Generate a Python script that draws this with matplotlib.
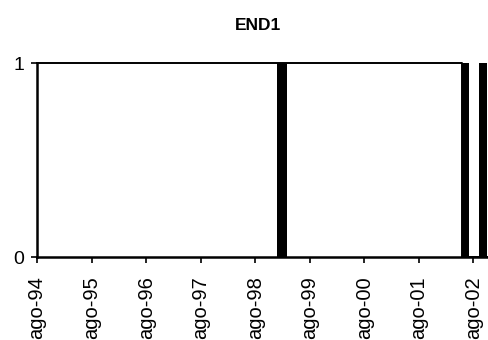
import matplotlib
matplotlib.use("Agg")
import matplotlib.pyplot as plt
import numpy as np
import pandas as pd

plt.rcParams['font.family'] = ['Liberation Sans', 'DejaVu Sans']

title = "END1"
# dummy series: date at which the level changes and the level held from then on
level_dates = ["1994-08-01", "2002-05-15", "2002-10-31"]
level_values = [1, 0, 0]
# periods drawn as solid black blocks (rapid 0/1 switching)
band_starts = ["1998-12-25", "2002-05-15", "2002-09-10"]
band_ends = ["1999-03-01", "2002-07-05", "2002-10-28"]
tick_dates = ["1994-08-01", "1995-08-01", "1996-08-01", "1997-08-01", "1998-08-01",
              "1999-08-01", "2000-08-01", "2001-08-01", "2002-08-01"]
tick_labels = ["ago-94", "ago-95", "ago-96", "ago-97", "ago-98",
               "ago-99", "ago-00", "ago-01", "ago-02"]
x_start, x_end = "1994-08-01", "2002-10-31"

fig = plt.figure(figsize=(4.88, 3.40), dpi=100)
ax = fig.add_axes([37/488, 1-257/340, (487-37)/488, (257-63)/340])

ld = pd.to_datetime(level_dates)
ax.step(ld, level_values, where='post', color='black', lw=1.4, clip_on=False, zorder=3)
for s, e in zip(band_starts, band_ends):
    ax.axvspan(pd.Timestamp(s), pd.Timestamp(e), ymin=0, ymax=1, color='black', lw=0, zorder=4)

ax.set_xlim(pd.Timestamp(x_start), pd.Timestamp(x_end))
ax.set_ylim(0, 1)
ax.set_yticks([0, 1])
ax.set_yticklabels(["0", "1"], fontsize=14)
ax.set_xticks(pd.to_datetime(tick_dates))
ax.set_xticklabels(tick_labels, rotation=90, fontsize=14.5)

for sp in ['top', 'right']:
    ax.spines[sp].set_visible(False)
for sp in ['left', 'bottom']:
    ax.spines[sp].set_linewidth(1.8)
    ax.spines[sp].set_color('black')
ax.tick_params(axis='x', direction='out', length=4, width=1.2, pad=10)
ax.tick_params(axis='y', direction='out', length=4, width=1.2, pad=5)

ax.set_title(title, fontsize=12.5, fontweight='bold', pad=24, x=0.49)

fig.savefig("out.png", dpi=100)
